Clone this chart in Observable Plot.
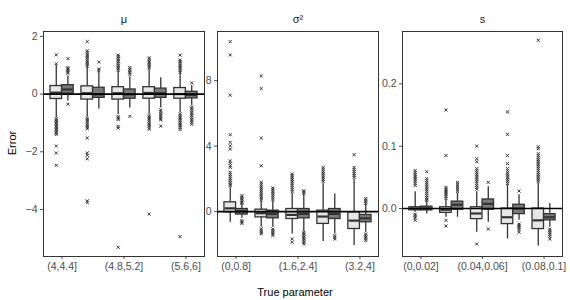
<!DOCTYPE html>
<html><head><meta charset="utf-8">
<script src="https://cdn.jsdelivr.net/npm/d3@7"></script>
<script src="https://cdn.jsdelivr.net/npm/@observablehq/plot@0.6"></script>
<style>
body{margin:0;background:#fff;font-family:"Liberation Sans",Arial,sans-serif;}
#wrap{position:relative;width:570px;height:300px;overflow:hidden;}
#wrap svg{position:absolute;top:0;max-width:none;}
.t{position:absolute;font-size:11px;color:#000;white-space:nowrap;}
</style></head><body>
<div id="wrap">
  <div class="t" id="ytitle" style="left:12px;top:143px;transform:translate(-50%,-50%) rotate(-90deg);">Error</div>
  <div class="t" id="xtitle" style="left:295px;top:292px;transform:translate(-50%,-50%);">True parameter</div>
</div>
<script>
// ---------- data ----------
const muCats = ["(4,4.4]","(4.4,4.8]","(4.8,5.2]","(5.2,5.6]","(5.6,6]"];
const sigCats = ["(0,0.8]","(0.8,1.6]","(1.6,2.4]","(2.4,3.2]","(3.2,4]"];
const sCats = ["(0,0.02]","(0.02,0.04]","(0.04,0.06]","(0.06,0.08]","(0.08,0.1]"];
const muTicks = ["(4,4.4]","(4.8,5.2]","(5.6,6]"];
const sigTicks = ["(0,0.8]","(1.6,2.4]","(3.2,4]"];
const sTicks = ["(0,0.02]","(0.04,0.06]","(0.08,0.1]"];
const facetTitles = ["μ","σ²","s"];
const muYTicks = [-4,-2,0,2];
const sigYTicks = [0,4,8];
const sYTicks = [0,0.1,0.2];

// box stats per category: [lower whisker, q1, median, q3, upper whisker]
const muBoxA = [[-0.82,-0.17,0.05,0.28,1.0],[-0.8,-0.19,0.03,0.27,0.92],[-0.72,-0.19,0.03,0.24,0.8],[-0.7,-0.16,0.04,0.24,0.88],[-0.65,-0.16,0.0,0.21,0.72]];
const muBoxB = [[-0.24,0.02,0.16,0.31,0.63],[-0.52,-0.13,-0.01,0.22,0.78],[-0.48,-0.16,-0.01,0.16,0.6],[-0.48,-0.13,0.03,0.19,0.57],[-0.4,-0.15,-0.03,0.08,0.3]];
const sigBoxA = [[-0.65,-0.04,0.2,0.57,1.5],[-0.96,-0.35,-0.1,0.12,0.62],[-1.36,-0.45,-0.2,0.16,1.1],[-1.83,-0.75,-0.3,0.06,1.75],[-2.07,-1.06,-0.55,-0.04,2.0]];
const sigBoxB = [[-0.4,-0.18,0.02,0.16,0.45],[-0.96,-0.41,-0.14,0.06,0.65],[-1.22,-0.41,-0.14,0.16,1.05],[-1.36,-0.45,-0.14,0.16,1.08],[-1.26,-0.65,-0.41,-0.2,0.45]];
const sBoxA = [[-0.006,-0.003,0.0,0.002,0.027],[-0.014,-0.007,-0.002,0.002,0.014],[-0.038,-0.017,-0.008,0.002,0.027],[-0.049,-0.025,-0.014,0.0,0.038],[-0.06,-0.033,-0.019,0.0,0.04]];
const sBoxB = [[-0.009,-0.003,0.0,0.003,0.011],[-0.014,-0.002,0.006,0.011,0.024],[-0.022,-0.002,0.0075,0.0145,0.035],[-0.019,-0.009,0.0,0.006,0.022],[-0.03,-0.019,-0.014,-0.009,0.008]];

// outliers per category
const muOutA = [
  [1.36,1.05,-0.85,-0.9,-0.95,-1.0,-1.05,-1.1,-1.15,-1.2,-1.25,-1.3,-1.35,-1.4,-1.8,-2.04,-2.47],
  [1.82,1.5,1.44,1.38,1.32,1.26,1.2,1.14,1.08,1.02,0.97,-0.84,-0.9,-0.96,-1.02,-1.08,-1.14,-1.2,-1.52,-2.04,-2.12,-2.24,-3.7,-3.76],
  [1.35,1.3,1.24,1.18,1.12,1.06,1.0,0.94,0.88,0.83,-0.78,-0.83,-0.88,-1.12,-1.18,-5.31],
  [1.26,1.2,1.14,1.08,1.02,0.96,0.92,-0.74,-0.8,-0.86,-0.92,-0.98,-1.04,-1.1,-1.16,-1.22,-4.16],
  [1.35,1.18,1.12,1.06,1.0,0.94,0.88,0.82,0.76,-0.68,-0.74,-0.8,-0.86,-0.92,-0.98,-1.04,-1.1,-1.16,-1.23,-4.94]];
const muOutB = [
  [1.23,0.92,0.87,0.82,0.77,0.72,-0.35],
  [1.11,0.87,0.82],
  [0.92,0.86,0.8,0.74,0.68,-0.77],
  [-0.55,-0.61,-0.67,-0.73,-0.79,-0.85,-0.89,-1.11],
  [0.39,-0.45,-0.51,-0.57,-0.63,-0.69,-0.75,-0.81,-0.87,-0.93,-0.99,-1.05]];
const sigOutA = [
  [10.38,9.57,7.11,4.7,4.23,4.02,3.82,3.1,2.95,2.8,2.7,2.4,2.28,2.16,2.04,1.92,1.8,1.68,1.6],
  [8.29,7.52,4.49,2.8,1.79,1.67,1.55,1.43,1.31,1.19,1.07,0.95,0.83,0.72,-1.05,-1.15,-1.25,-1.35],
  [2.3,2.18,2.06,1.94,1.82,1.7,1.58,1.46,1.34,1.22,-1.67,-1.87],
  [2.7,2.58,2.46,2.34,2.22,2.1,1.98,1.86],
  [3.48,2.7,2.58,2.46,2.34,2.22,2.1]];
const sigOutB = [
  [0.98,0.88,0.78,0.68,0.58,0.5,-0.55,-0.63,-0.72],
  [1.45,1.33,1.21,1.09,0.97,0.85,0.73,-1.06,-1.16,-1.26,-1.36,-1.46],
  [1.28,1.2,1.12,-1.26,-1.36,-1.46,-1.56,-1.66,-1.76,-1.86,-1.97],
  [-1.46,-1.56,-1.67],
  [0.8,0.7,0.6,0.5,-1.36,-1.46,-1.56,-1.66,-1.77]];
const sOutA = [
  [0.061,0.058,0.055,0.052,0.049,0.046,0.043,0.04,0.037,-0.009,-0.012,-0.015,-0.019],
  [0.158,0.085,0.034,0.031,0.028,0.025,0.022,0.019,0.016,-0.019,-0.028],
  [0.1,0.08,0.075,0.064,0.061,0.058,0.055,0.052,0.049,0.046,0.043,0.04,0.037,0.034,0.031,-0.057],
  [0.155,0.119,0.085,0.072,0.064,0.061,0.058,0.055,0.052,0.049,0.046,0.043,0.04],
  [0.27,0.099,0.096,0.088,0.085,0.082,0.079,0.076,0.073,0.07,0.067,0.064,0.061,0.058,0.055,0.052,0.049,0.046,0.043]];
const sOutB = [
  [0.059,0.048,0.045,0.042,0.039,0.036,0.033,0.03,0.027,0.024,0.021,0.018,0.015,0.013],
  [0.042,0.039,0.036,0.033,0.03,0.027],
  [0.042,-0.033],
  [0.028,-0.025,-0.028,-0.031,-0.034,-0.038],
  [-0.033,-0.036,-0.039,-0.042,-0.045,-0.049]];

// ---------- drawing ----------
const FILL = {A:"#e6e6e6", B:"#7a7a7a"};
const EDGE = "#333333";

function boxRows(cats, box){ return cats.map((c,i)=>({cat:c, lo:box[i][0], q1:box[i][1], med:box[i][2], q3:box[i][3], hi:box[i][4]})); }
function outRows(cats, out){ return cats.flatMap((c,i)=>out[i].map(v=>({cat:c, v}))); }

function panel(o){
  const inner = o.width - o.mL - o.mR;
  const step = inner / 5.2;
  const bw = 0.375 * step;
  const marks = [];
  for (const g of ["A","B"]) {
    const s = g === "A" ? -1 : 1;
    const rows = boxRows(o.cats, o.box[g]);
    const outs = outRows(o.cats, o.out[g]);
    const inL = g === "A" ? step/2 - bw : step/2;
    const inR = g === "A" ? step/2 : step/2 - bw;
    marks.push(
      Plot.ruleX(rows, {x:"cat", y1:"lo", y2:"q1", dx:s*bw/2, stroke:EDGE, strokeWidth:1.3}),
      Plot.ruleX(rows, {x:"cat", y1:"q3", y2:"hi", dx:s*bw/2, stroke:EDGE, strokeWidth:1.3}),
      Plot.barY(rows, {x:"cat", y1:"q1", y2:"q3", insetLeft:inL, insetRight:inR, fill:FILL[g], stroke:EDGE, strokeWidth:1.3}),
      Plot.tickY(rows, {x:"cat", y:"med", insetLeft:inL+0.6, insetRight:inR+0.6, stroke:EDGE, strokeWidth:2.2}),
      Plot.dot(outs, {x:"cat", y:"v", dx:s*bw/2, symbol:"times", r:1.5, stroke:EDGE, strokeWidth:1})
    );
  }
  marks.push(Plot.ruleY([0], {stroke:"#000", strokeWidth:1.7}));
  marks.push(Plot.frame({stroke:"#333", strokeWidth:1}));
  marks.push(Plot.text([o.title], {frameAnchor:"top", dy:-16, fontSize:11, fill:"#1a1a1a"}));
  const svg = Plot.plot({
    width:o.width, height:300, marginLeft:o.mL, marginRight:o.mR, marginTop:31, marginBottom:44,
    style:{fontFamily:"'Liberation Sans', Arial, sans-serif", fontSize:"10.5px", color:"#4d4d4d", background:"transparent", overflow:"visible"},
    x:{type:"band", domain:o.cats, paddingInner:0, paddingOuter:0.1, round:false, label:null, ticks:o.xticks, tickSize:3, tickPadding:3},
    y:{domain:o.domain, ticks:o.yticks, tickFormat:o.fmt, label:null, tickSize:3, tickPadding:3},
    marks
  });
  svg.style.left = o.left + "px";
  document.getElementById("wrap").appendChild(svg);
}

panel({cats:muCats, xticks:muTicks, yticks:muYTicks, fmt:undefined, domain:[-5.63,2.17], title:facetTitles[0],
       box:{A:muBoxA,B:muBoxB}, out:{A:muOutA,B:muOutB}, left:0, width:208, mL:43, mR:4});
panel({cats:sigCats, xticks:sigTicks, yticks:sigYTicks, fmt:undefined, domain:[-2.74,11.0], title:facetTitles[1],
       box:{A:sigBoxA,B:sigBoxB}, out:{A:sigOutA,B:sigOutB}, left:190, width:192, mL:27, mR:4});
panel({cats:sCats, xticks:sTicks, yticks:sYTicks, fmt:d3.format(".1f"), domain:[-0.077,0.284], title:facetTitles[2],
       box:{A:sBoxA,B:sBoxB}, out:{A:sOutA,B:sOutB}, left:378, width:190, mL:24, mR:6});
</script>
</body></html>
